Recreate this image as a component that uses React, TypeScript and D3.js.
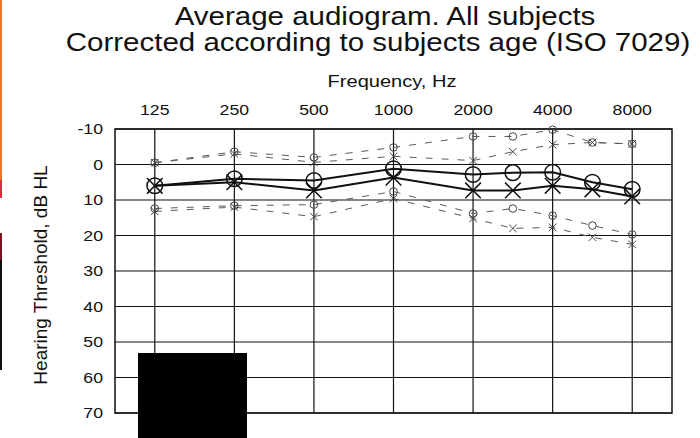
import React from "react";
import * as d3 from "d3";

const frequencies = [125, 250, 500, 1000, 2000, 3000, 4000, 6000, 8000];
// plotting position on the audiogram (octaves from 125 Hz, half-octave for 3k/6k)
const audiometricPos = [0, 1, 2, 3, 4, 4.5, 5, 5.5, 6];
const tickFreqs = ["125", "250", "500", "1000", "2000", "4000", "8000"];
const tickPos = [0, 1, 2, 3, 4, 5, 6];
const yTicks = [-10, 0, 10, 20, 30, 40, 50, 60, 70];

const meanO = [6, 4, 4.5, 1.2, 2.8, 2.3, 2.2, 5, 7];
const meanX = [6, 5, 7.3, 3.7, 7.3, 7.3, 6, 7, 9];
const upperO = [-0.5, -3.6, -2, -4.8, -7.9, -7.9, -9.8, -6.2, -5.8];
const upperX = [-0.5, -3, -0.6, -2.3, -1.1, -3.6, -5.6, -6.2, -5.8];
const lowerO = [12.4, 11.6, 11.3, 7.6, 13.8, 12.4, 14.4, 17.2, 19.7];
const lowerX = [13.2, 12, 14.7, 9.6, 15.2, 18, 17.7, 20.5, 22.5];

const W = 700;
const H = 438;
const L = 115, R = 672, T = 129, B = 413;
const FONT = "'Liberation Sans', Arial, sans-serif";
const SX = 1.18;

function HText({ x, y, size, anchor = "middle", dy, children }: any) {
  return (
    <g transform={`translate(${x},${y}) scale(${SX},1)`}>
      <text x={0} y={0} dy={dy} textAnchor={anchor} fontFamily={FONT} fontSize={size} fill="#111">
        {children}
      </text>
    </g>
  );
}

export default function App() {
  const x = d3.scaleLinear().domain([-0.5, 6.5]).range([L, R]);
  const y = d3.scaleLinear().domain([-10, 70]).range([T, B]);
  const line = d3
    .line<number>()
    .x((_, i) => x(audiometricPos[i]))
    .y((d) => y(d));

  const circles = (vals: number[], r: number, stroke: string, sw: number, key: string) =>
    vals.map((v, i) => (
      <circle key={key + i} cx={x(audiometricPos[i])} cy={y(v)} r={r} fill="none" stroke={stroke} strokeWidth={sw} />
    ));
  const crosses = (vals: number[], s: number, stroke: string, sw: number, key: string) =>
    vals.map((v, i) => {
      const cx = x(audiometricPos[i]);
      const cy = y(v);
      return (
        <g key={key + i} stroke={stroke} strokeWidth={sw}>
          <line x1={cx - s} y1={cy - s} x2={cx + s} y2={cy + s} />
          <line x1={cx - s} y1={cy + s} x2={cx + s} y2={cy - s} />
        </g>
      );
    });

  const dashColor = "#5a5a5a";

  return (
    <div style={{ position: "absolute", left: 0, top: 0 }}>
      <svg width={W} height={H} style={{ display: "block", background: "#fff" }}>
        {/* left edge artifacts */}
        <rect x={0} y={0} width={2} height={180} fill="#e8732e" />
        <rect x={0} y={180} width={2} height={18} fill="#d83040" />
        <rect x={0} y={233} width={2} height={27} fill="#7a1020" />
        <rect x={0} y={260} width={2} height={110} fill="#111" />

        <HText x={385} y={25} size={25}>Average audiogram. All subjects</HText>
        <HText x={378} y={51} size={25}>Corrected according to subjects age (ISO 7029)</HText>
        <HText x={392} y={87} size={17}>Frequency, Hz</HText>

        {tickFreqs.map((t, i) => (
          <HText key={t} x={x(tickPos[i])} y={115} size={15}>
            {t}
          </HText>
        ))}
        {yTicks.map((t) => (
          <HText key={t} x={103} y={y(t)} dy="0.36em" anchor="end" size={15}>
            {t}
          </HText>
        ))}
        <text
          transform={`translate(47,${(T + B) / 2 + 4}) rotate(-90)`}
          textAnchor="middle"
          fontFamily={FONT}
          fontSize={19}
          fill="#111"
        >
          Hearing Threshold, dB HL
        </text>

        {/* grid */}
        {yTicks.map((t) => (
          <line key={"gy" + t} x1={L} x2={R} y1={y(t)} y2={y(t)} stroke="#111" strokeWidth={1.2} />
        ))}
        {tickPos.map((p) => (
          <line key={"gx" + p} x1={x(p)} x2={x(p)} y1={T} y2={B} stroke="#111" strokeWidth={1.2} />
        ))}
        <rect x={L} y={T} width={R - L} height={B - T} fill="none" stroke="#111" strokeWidth={1.5} />

        {/* SD dashed lines */}
        {[upperO, upperX, lowerO, lowerX].map((s, k) => (
          <path key={"d" + k} d={line(s) || ""} fill="none" stroke={dashColor} strokeWidth={1} strokeDasharray="7,9" />
        ))}
        {circles(upperO, 3.8, "#444", 1, "uo")}
        {circles(lowerO, 3.8, "#444", 1, "lo")}
        {crosses(upperX, 3.8, "#444", 1, "ux")}
        {crosses(lowerX, 3.8, "#444", 1, "lx")}

        {/* means */}
        <path d={line(meanO) || ""} fill="none" stroke="#111" strokeWidth={2} />
        <path d={line(meanX) || ""} fill="none" stroke="#111" strokeWidth={2} />
        {circles(meanO, 7.8, "#111", 1.5, "mo")}
        {crosses(meanX, 7.8, "#111", 1.5, "mx")}

        {/* black box */}
        <rect x={138} y={353} width={109} height={85} fill="#000" />
      </svg>
    </div>
  );
}
